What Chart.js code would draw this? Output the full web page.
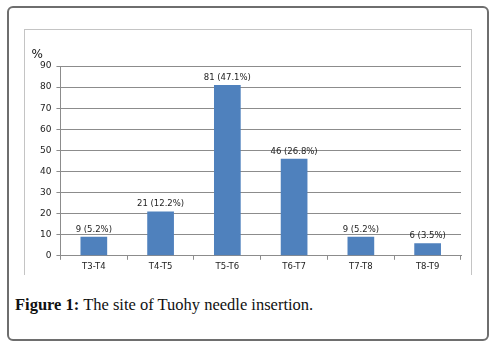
<!DOCTYPE html>
<html>
<head>
<meta charset="utf-8">
<script src="https://cdn.jsdelivr.net/npm/chart.js@4"></script>
<style>
  html, body { margin: 0; padding: 0; background: #fff; }
  body { width: 496px; height: 346px; position: relative; overflow: hidden; }
  .outer {
    position: absolute; left: 7px; top: 6px; width: 482px; height: 335px;
    border: 2px solid #6e6e6e; border-radius: 6px; box-sizing: border-box;
  }
  .frame {
    position: absolute; left: 24px; top: 29px; width: 448px; height: 246px;
    border: 1px solid #c4c4c4; border-bottom: none; box-sizing: border-box;
  }
  .caption {
    position: absolute; left: 15px; top: 295px;
    font-family: "Liberation Serif", "DejaVu Serif", serif; font-size: 16.5px; color: #111;
  }
  .caption b { font-weight: bold; }
  #wrap { position: absolute; left: 25px; top: 30px; width: 446px; height: 244px; }
</style>
</head>
<body>
<div class="outer"></div>
<div class="frame"></div>
<div id="wrap"><canvas id="barChart"></canvas></div>
<div class="caption"><b>Figure 1:</b> The site of Tuohy needle insertion.</div>
<script>
const levels = ["T3-T4", "T4-T5", "T5-T6", "T6-T7", "T7-T8", "T8-T9"];
const counts = [9, 21, 81, 46, 9, 6];
const percents = ["5.2", "12.2", "47.1", "26.8", "5.2", "3.5"];
const yTicks = [0, 10, 20, 30, 40, 50, 60, 70, 80, 90];

const barLabels = {
  id: "barLabels",
  afterDatasetsDraw(chart) {
    const ctx = chart.ctx;
    const meta = chart.getDatasetMeta(0);
    ctx.save();
    ctx.font = "8.5px 'DejaVu Sans', sans-serif";
    ctx.fillStyle = "#222";
    ctx.textAlign = "center";
    ctx.textBaseline = "bottom";
    meta.data.forEach((bar, i) => {
      ctx.fillText(counts[i] + " (" + percents[i] + "%)", bar.x, bar.y - 3);
    });
    // axis unit
    ctx.font = "12px 'DejaVu Sans', sans-serif";
    ctx.textAlign = "left";
    ctx.textBaseline = "alphabetic";
    ctx.fillStyle = "#111";
    ctx.fillText("%", chart.chartArea.left - 29, chart.chartArea.top - 8);
    ctx.restore();
  }
};

const ctx = document.getElementById("barChart").getContext("2d");
const chart = new Chart(ctx, {
  type: "bar",
  data: {
    labels: levels,
    datasets: [
      {
        data: counts,
        backgroundColor: "#4f81bd",
        borderColor: "#4f81bd",
        borderWidth: 0,
        barPercentage: 0.4,
        categoryPercentage: 1,
      },
    ],
  },
  options: {
    responsive: true,
    maintainAspectRatio: false,
    animation: false,
    layout: {
      padding: { top: 36, bottom: 0, left: 10, right: 10 },
    },
    plugins: {
      legend: { display: false },
      tooltip: { enabled: false },
    },
    scales: {
      x: {
        offset: true,
        grid: {
          offset: true,
          drawOnChartArea: false,
          drawTicks: true,
          tickLength: 4,
          color: "#8c8c8c",
        },
        border: { color: "#8c8c8c", width: 1 },
        ticks: {
          color: "#222",
          font: { size: 8.5, family: "'DejaVu Sans', sans-serif" },
          padding: 2,
        },
      },
      y: {
        min: 0,
        max: 90,
        afterBuildTicks(axis) {
          axis.ticks = yTicks.map((v) => ({ value: v }));
        },
        grid: {
          color: "#8c8c8c",
          tickLength: 4,
        },
        border: { color: "#8c8c8c", width: 1 },
        ticks: {
          color: "#222",
          font: { size: 9, family: "'DejaVu Sans', sans-serif" },
          padding: 5,
        },
      },
    },
  },
  plugins: [barLabels],
});
</script>
</body>
</html>
